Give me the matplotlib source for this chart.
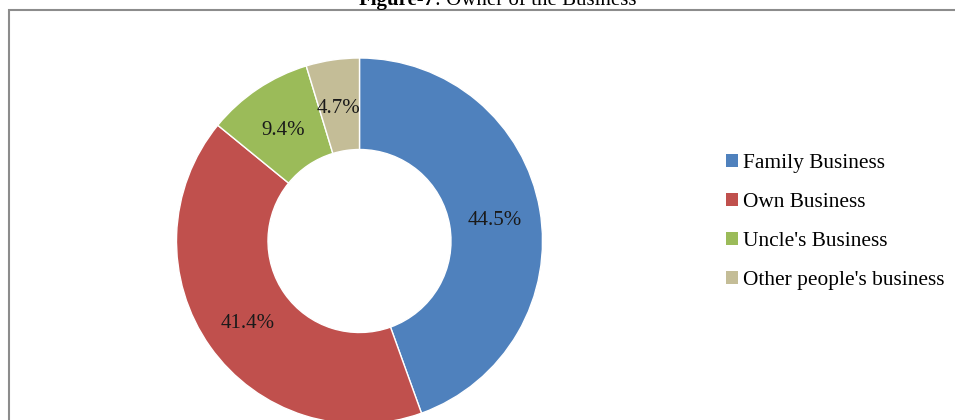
import numpy as np
import matplotlib
matplotlib.use("Agg")
from matplotlib import pyplot as plt
from matplotlib.patches import Rectangle, Patch

plt.rcParams['font.family'] = ['Liberation Serif', 'DejaVu Serif']

# data
labels = ["Family Business", "Own Business", "Uncle's Business", "Other people's business"]
values = [44.5, 41.4, 9.4, 4.7]
colors = ["#4F81BD", "#C0504D", "#9BBB59", "#C4BD97"]

W, H = 955, 420
fig = plt.figure(figsize=(W / 100, H / 100), dpi=100)

# outer border of the chart area (right and bottom edges are cropped)
fig.patches.append(Rectangle((9 / W, -0.2), 1.2, (H - 10) / H + 0.2,
                             transform=fig.transFigure, fill=False,
                             edgecolor="#8c8c8c", linewidth=1.5))

# title, "Figure-7" in bold
ty = (H - 5) / H
fig.text(435 / W, ty, "Figure-7", fontweight="bold", ha="right", va="baseline", fontsize=15)
fig.text(435 / W, ty, ": Owner of the Business", ha="left", va="baseline", fontsize=15)

# donut
cx, cy, r = 359.5, H - 241, 183
ax = fig.add_axes([(cx - r) / W, (cy - r) / H, 2 * r / W, 2 * r / H])
wedges, texts, autotexts = ax.pie(values, colors=colors, startangle=90, counterclock=False,
                                  radius=1, autopct="%.1f%%", pctdistance=0.75,
                                  wedgeprops=dict(width=0.5, edgecolor="white", linewidth=1),
                                  textprops=dict(fontsize=15, color="#1a1a1a"))
# small slice label nudged left like the original
ang = np.deg2rad(99)
autotexts[3].set_position((0.75 * np.cos(ang), 0.75 * np.sin(ang)))
for t in autotexts:
    x, y = t.get_position()
    t.set_position((x, y - 0.018))
ax.set_xlim(-1, 1)
ax.set_ylim(-1, 1)
ax.axis("off")

handles = [Patch(facecolor=c, edgecolor="none") for c in colors]
fig.legend(handles, labels, loc="center left", bbox_to_anchor=(707 / W, (H - 222) / H),
           frameon=False, fontsize=15.4, handlelength=0.55, handleheight=0.55,
           handletextpad=0.25, labelspacing=0.93)

fig.savefig("out.png", dpi=100)
